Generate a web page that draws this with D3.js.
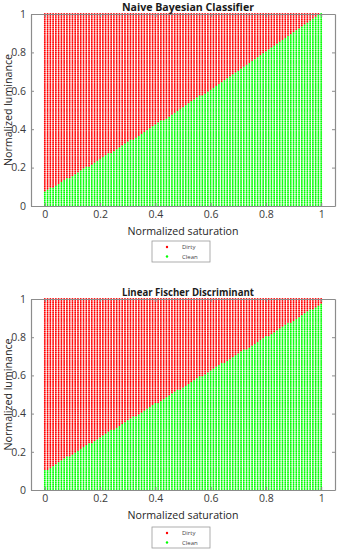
<!DOCTYPE html>
<html lang="en">
<head>
  <meta charset="UTF-8">
  <script src="https://d3js.org/d3.v7.min.js" charset="utf-8"></script>
  <title>Classifier decision maps</title>
  <style>
    body { margin: 0; background: #fff; }
    text { font-family: "Open Sans", "Liberation Sans", sans-serif; }
  </style>
</head>
<body>
  <div class="demo"></div>
  <script>
    // sample grid (linspace 0:0.01:1 on both axes)
    const saturation = d3.range(0, 101).map(i => i / 100);
    const luminance = d3.range(0, 101).map(i => i / 100);

    // highest luminance classified as "Clean" for each saturation column
    const nbBoundary = [
      0.07, 0.08, 0.09, 0.09, 0.10, 0.11, 0.12, 0.13, 0.14, 0.14,
      0.15, 0.16, 0.17, 0.18, 0.19, 0.20, 0.20, 0.21, 0.22, 0.23,
      0.24, 0.25, 0.26, 0.27, 0.27, 0.28, 0.29, 0.30, 0.31, 0.32,
      0.33, 0.34, 0.34, 0.35, 0.36, 0.37, 0.38, 0.39, 0.40, 0.41,
      0.42, 0.43, 0.44, 0.44, 0.45, 0.46, 0.47, 0.48, 0.49, 0.50,
      0.51, 0.52, 0.53, 0.54, 0.55, 0.56, 0.57, 0.57, 0.58, 0.59,
      0.60, 0.61, 0.62, 0.63, 0.64, 0.65, 0.66, 0.67, 0.68, 0.69,
      0.70, 0.71, 0.72, 0.73, 0.74, 0.75, 0.76, 0.77, 0.78, 0.79,
      0.80, 0.81, 0.82, 0.83, 0.84, 0.85, 0.86, 0.87, 0.88, 0.89,
      0.90, 0.91, 0.92, 0.93, 0.94, 0.95, 0.96, 0.97, 0.98, 0.99,
      1.00
    ];
    const lfdBoundary = [
      0.10, 0.10, 0.11, 0.12, 0.13, 0.14, 0.15, 0.16, 0.17, 0.17,
      0.18, 0.19, 0.20, 0.21, 0.22, 0.23, 0.24, 0.24, 0.25, 0.26,
      0.27, 0.28, 0.29, 0.30, 0.31, 0.31, 0.32, 0.33, 0.34, 0.35,
      0.36, 0.37, 0.38, 0.38, 0.39, 0.40, 0.41, 0.42, 0.43, 0.44,
      0.45, 0.45, 0.46, 0.47, 0.48, 0.49, 0.50, 0.51, 0.52, 0.52,
      0.53, 0.54, 0.55, 0.56, 0.57, 0.58, 0.59, 0.59, 0.60, 0.61,
      0.62, 0.63, 0.64, 0.65, 0.66, 0.66, 0.67, 0.68, 0.69, 0.70,
      0.71, 0.72, 0.73, 0.73, 0.74, 0.75, 0.76, 0.77, 0.78, 0.79,
      0.80, 0.80, 0.81, 0.82, 0.83, 0.84, 0.85, 0.86, 0.87, 0.87,
      0.88, 0.89, 0.90, 0.91, 0.92, 0.93, 0.94, 0.94, 0.95, 0.96,
      0.97
    ];

    const titles = ['Naive Bayesian Classifier', 'Linear Fischer Discriminant'];
    const classes = ['Dirty', 'Clean'];
    const classColors = ['#ff0000', '#00ff00'];
    const xTicks = [0, 0.2, 0.4, 0.6, 0.8, 1];
    const yTicks = [0, 0.2, 0.4, 0.6, 0.8, 1];

    const width = 337, height = 550;
    const svg = d3.select('.demo').append('svg').attr('width', width).attr('height', height);

    const color = d3.scaleOrdinal().domain(classes).range(classColors);
    const x = d3.scaleLinear().domain([-0.05, 1.05]).range([31, 335]);
    const fmt = d => d === 0 || d === 1 ? String(d) : d.toFixed(1);

    const panels = [
      { title: titles[0], boundary: nbBoundary, top: 14, bottom: 206, legendTop: 241 },
      { title: titles[1], boundary: lfdBoundary, top: 299, bottom: 490, legendTop: 527 }
    ];

    panels.forEach(p => {
      const y = d3.scaleLinear().domain([0, 1]).range([p.bottom, p.top]);
      const g = svg.append('g');

      // grid points, Dirty first then Clean
      const points = [];
      classes.forEach(cls => {
        saturation.forEach((s, i) => {
          luminance.forEach(l => {
            const c = l <= p.boundary[i] + 1e-9 ? 'Clean' : 'Dirty';
            if (c === cls) points.push({ s, l, c });
          });
        });
      });
      g.append('g').selectAll('circle').data(points).join('circle')
        .attr('cx', d => x(d.s)).attr('cy', d => y(d.l)).attr('r', 0.95)
        .attr('fill', d => color(d.c));

      // axes box
      const axisColor = '#8c8c8c';
      const left = d3.axisLeft(y).tickValues(yTicks).tickFormat(fmt).tickSizeInner(-3).tickSizeOuter(0).tickPadding(5);
      const right = d3.axisRight(y).tickValues(yTicks).tickFormat('').tickSizeInner(-3).tickSizeOuter(0);
      const bottom = d3.axisBottom(x).tickValues(xTicks).tickFormat(fmt).tickSizeInner(-3).tickSizeOuter(0).tickPadding(5);
      const topAx = d3.axisTop(x).tickValues(xTicks).tickFormat('').tickSizeInner(-3).tickSizeOuter(0);

      const gl = g.append('g').attr('transform', `translate(${x.range()[0]},0)`).call(left);
      const gr = g.append('g').attr('transform', `translate(${x.range()[1]},0)`).call(right);
      const gb = g.append('g').attr('transform', `translate(0,${p.bottom})`).call(bottom);
      const gt = g.append('g').attr('transform', `translate(0,${p.top})`).call(topAx);
      [gl, gr, gb, gt].forEach(a => {
        a.select('.domain').attr('stroke', axisColor).attr('stroke-width', 1.2);
        a.selectAll('.tick line').attr('stroke', axisColor);
        a.selectAll('.tick text').attr('fill', '#3a3a3a').style('font-size', '10.5px');
      });

      // title and labels
      g.append('text').attr('x', 188).attr('y', p.top - 3.5).attr('text-anchor', 'middle')
        .attr('fill', '#1a1a1a').style('font-size', '10px').style('font-weight', 'bold')
        .attr('textLength', 132).attr('lengthAdjust', 'spacingAndGlyphs').text(p.title);
      g.append('text').attr('x', 183).attr('y', p.bottom + 28.5).attr('text-anchor', 'middle')
        .attr('fill', '#262626').style('font-size', '11.5px')
        .attr('textLength', 111).attr('lengthAdjust', 'spacingAndGlyphs').text('Normalized saturation');
      g.append('text').attr('transform', `translate(12,${(p.top + p.bottom) / 2}) rotate(-90)`)
        .attr('text-anchor', 'middle').attr('fill', '#262626').style('font-size', '11px')
        .attr('textLength', 112).attr('lengthAdjust', 'spacingAndGlyphs').text('Normalized luminance');

      // legend
      const lg = g.append('g').attr('transform', `translate(152,${p.legendTop})`);
      lg.append('rect').attr('width', 58).attr('height', 21).attr('fill', '#fff')
        .attr('stroke', '#9a9a9a').attr('stroke-width', 0.8);
      classes.forEach((c, i) => {
        lg.append('circle').attr('cx', 15).attr('cy', 6 + i * 9.5).attr('r', 1.2).attr('fill', color(c));
        lg.append('text').attr('x', 30).attr('y', 8 + i * 9.5).attr('fill', '#444')
          .style('font-size', '6px').text(c);
      });
    });
  </script>
</body>
</html>
